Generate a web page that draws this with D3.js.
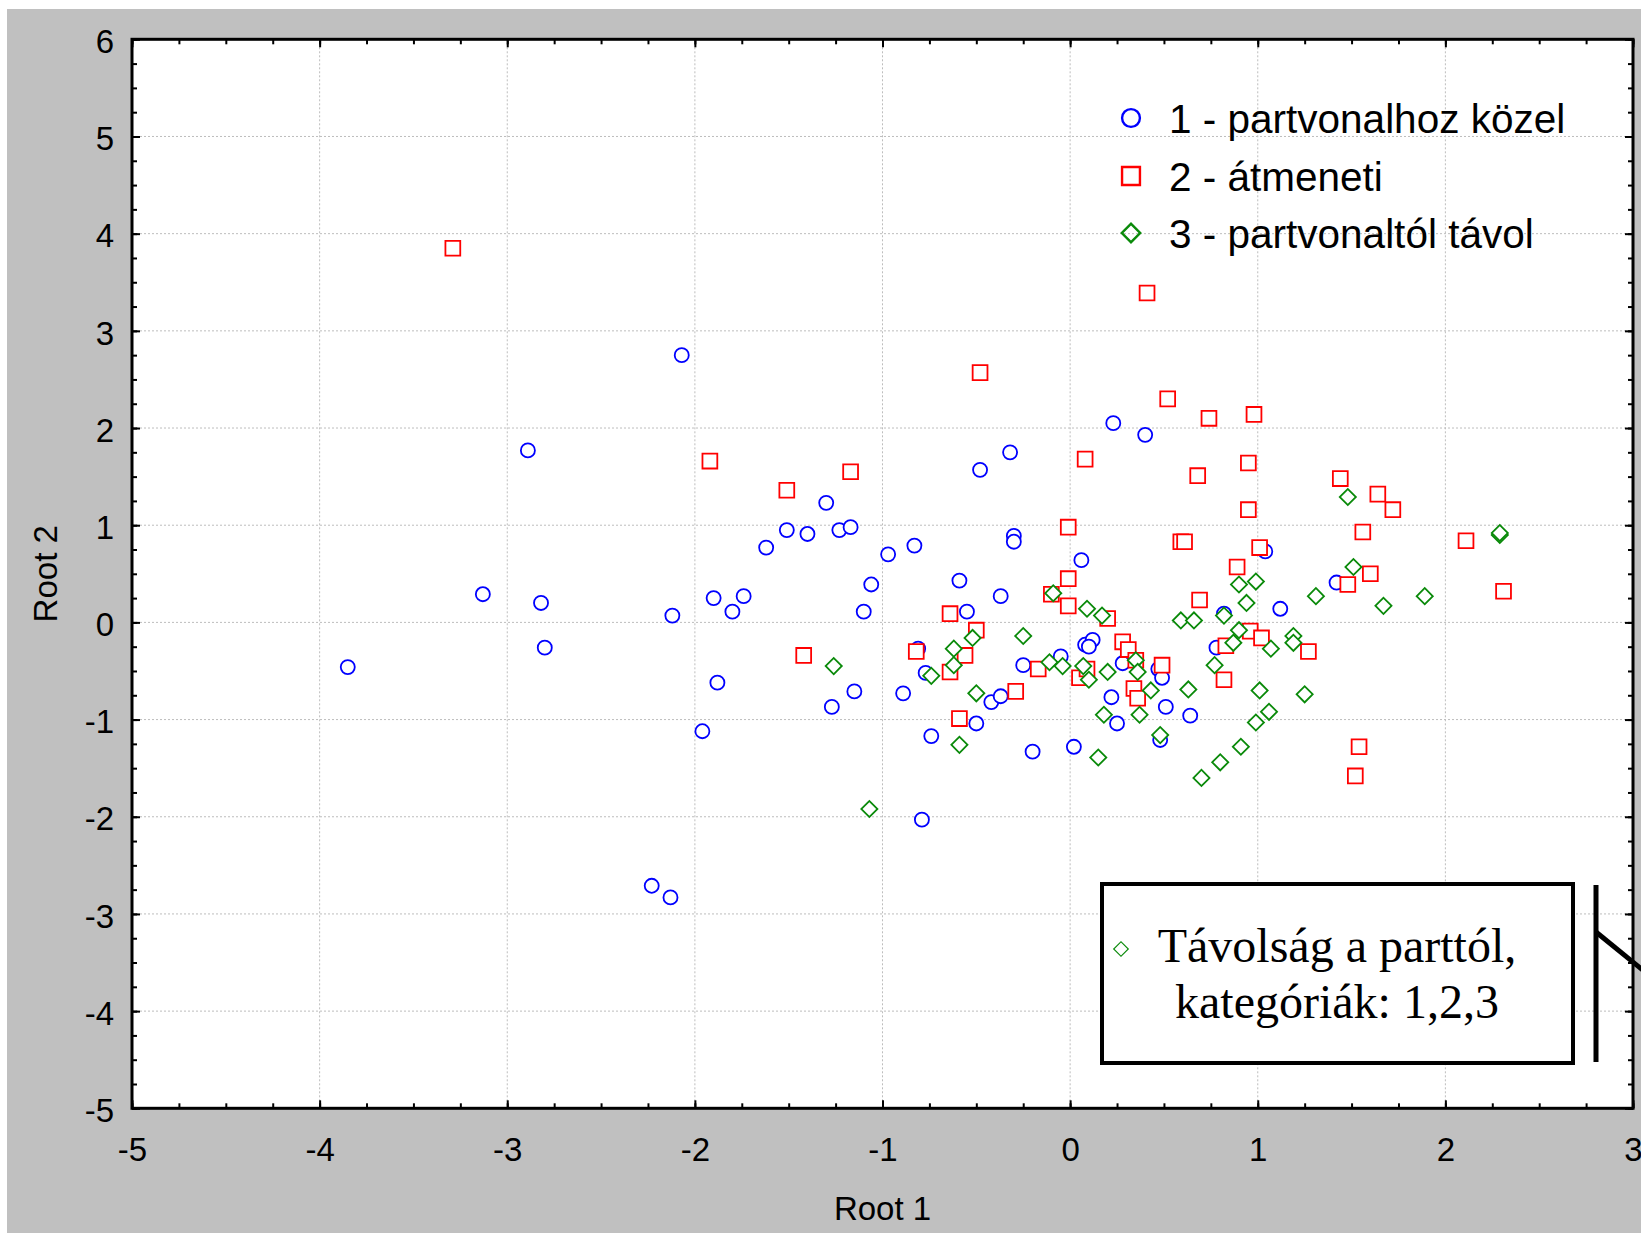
<!DOCTYPE html>
<html>
<head>
<meta charset="utf-8">
<script src="https://cdn.jsdelivr.net/npm/d3@7"></script>
<style>
    body { margin: 0; background: #ffffff; }
    .tick text { font-family: "Liberation Sans", Arial, sans-serif; }
</style>
</head>
<body>
<div id="chart"></div>
<script>
// Root 1 / Root 2 scores
let near_pts = [
    [-3.85, -0.46], [-3.13, 0.29], [-2.89, 1.77], [-2.82, 0.20], [-2.80, -0.26],
    [-2.23, -2.71], [-2.13, -2.83], [-2.12, 0.07], [-2.07, 2.75], [-1.96, -1.12],
    [-1.90, 0.25], [-1.88, -0.62], [-1.80, 0.11], [-1.74, 0.27], [-1.62, 0.77],
    [-1.51, 0.95], [-1.40, 0.91], [-1.30, 1.23], [-1.27, -0.87], [-1.23, 0.95],
    [-1.17, 0.98], [-1.15, -0.71], [-1.10, 0.11], [-1.06, 0.39], [-0.97, 0.70],
    [-0.89, -0.73], [-0.83, 0.79], [-0.81, -0.27], [-0.79, -2.03], [-0.77, -0.52],
    [-0.74, -1.17], [-0.59, 0.43], [-0.55, 0.11], [-0.50, -1.04], [-0.48, 1.57],
    [-0.42, -0.82], [-0.37, 0.27], [-0.37, -0.76], [-0.32, 1.75], [-0.30, 0.89],
    [-0.30, 0.83], [-0.25, -0.44], [-0.20, -1.33], [-0.05, -0.35], [0.02, -1.28],
    [0.06, 0.64], [0.08, -0.23], [0.12, -0.18], [0.10, -0.25], [0.22, -0.77],
    [0.23, 2.05], [0.25, -1.04], [0.28, -0.42], [0.40, 1.93], [0.47, -0.48],
    [0.49, -0.57], [0.48, -1.21], [0.51, -0.87], [0.64, -0.96], [0.78, -0.26],
    [0.82, 0.09], [1.04, 0.73], [1.12, 0.14], [1.42, 0.41]
];

let mid_pts = [
    [-3.29, 3.85], [-1.92, 1.66], [-1.51, 1.36], [-1.42, -0.34], [-1.17, 1.55],
    [-0.82, -0.30], [-0.64, 0.09], [-0.64, -0.51], [-0.59, -0.99], [-0.56, -0.34],
    [-0.50, -0.08], [-0.48, 2.57], [-0.29, -0.71], [-0.17, -0.48], [-0.10, 0.29],
    [-0.01, 0.98], [-0.01, 0.45], [-0.01, 0.17], [0.08, 1.68], [0.05, -0.57],
    [0.09, -0.48], [0.20, 0.04], [0.28, -0.20], [0.31, -0.28], [0.35, -0.39],
    [0.34, -0.68], [0.36, -0.78], [0.41, 3.39], [0.49, -0.44], [0.52, 2.30],
    [0.59, 0.83], [0.61, 0.83], [0.68, 1.51], [0.69, 0.23], [0.74, 2.10],
    [0.82, -0.59], [0.83, -0.24], [0.89, 0.57], [0.95, 1.64], [0.95, 1.16],
    [0.96, -0.09], [0.98, 2.14], [1.01, 0.77], [1.02, -0.16], [1.27, -0.30],
    [1.44, 1.48], [1.48, 0.39], [1.52, -1.58], [1.54, -1.28], [1.56, 0.93],
    [1.60, 0.50], [1.64, 1.32], [1.72, 1.16], [2.11, 0.84], [2.31, 0.32]
];

let far_pts = [
    [-1.26, -0.45], [-1.07, -1.92], [-0.74, -0.55], [-0.62, -0.27], [-0.62, -0.44],
    [-0.59, -1.26], [-0.52, -0.16], [-0.50, -0.73], [-0.25, -0.14], [-0.11, -0.41],
    [-0.09, 0.30], [-0.04, -0.45], [0.07, -0.45], [0.09, 0.14], [0.10, -0.59],
    [0.15, -1.39], [0.17, 0.07], [0.18, -0.95], [0.20, -0.51], [0.35, -0.39],
    [0.36, -0.51], [0.37, -0.95], [0.43, -0.70], [0.48, -1.16], [0.59, 0.02],
    [0.63, -0.69], [0.66, 0.02], [0.70, -1.60], [0.77, -0.44], [0.80, -1.44],
    [0.82, 0.07], [0.87, -0.21], [0.90, -0.08], [0.90, 0.39], [0.91, -1.28],
    [0.94, 0.20], [0.99, 0.42], [0.99, -1.03], [1.01, -0.70], [1.06, -0.92],
    [1.07, -0.27], [1.19, -0.14], [1.19, -0.21], [1.25, -0.74], [1.31, 0.27],
    [1.48, 1.29], [1.51, 0.57], [1.67, 0.17], [1.89, 0.27], [2.29, 0.90],
    [2.29, 0.92]
];

let x_ticks = [-5, -4, -3, -2, -1, 0, 1, 2, 3];
let y_ticks = [-5, -4, -3, -2, -1, 0, 1, 2, 3, 4, 5, 6];
let legend_labels = ["1 - partvonalhoz közel", "2 - átmeneti", "3 - partvonaltól távol"];
let note_lines = ["Távolság a parttól,", "kategóriák: 1,2,3"];

let group_colors = {
    "near": "#0000ff",
    "mid": "#ff0000",
    "far": "#0a8a0a"
};

// plain hyphen for negatives, like the original
let tick_fmt = function (d) { return String(d); };

function draw_scatter(div_to_graph) {

    let w = 1641, h = 1236;
    let left = 132, right = 1633, top = 39.3, bottom = 1108.3;

    let svg = d3.select("#" + div_to_graph).append("svg")
        .attr("width", w)
        .attr("height", h);

    svg.append("rect")
        .attr("x", 7).attr("y", 9)
        .attr("width", w - 7).attr("height", 1224)
        .style("fill", "#c0c0c0");

    let x = d3.scaleLinear().domain([-5, 3]).range([left, right]);
    let y = d3.scaleLinear().domain([-5, 6]).range([bottom, top]);

    svg.append("rect")
        .attr("x", left).attr("y", top)
        .attr("width", right - left).attr("height", bottom - top)
        .style("fill", "#ffffff");

    // dotted grid
    let grid = svg.append("g").style("stroke", "#bdbdbd").style("stroke-width", 1)
        .style("stroke-dasharray", "2,2");
    grid.selectAll(".vx").data(x_ticks.slice(1, -1)).enter().append("line")
        .attr("x1", d => x(d)).attr("x2", d => x(d))
        .attr("y1", top).attr("y2", bottom);
    grid.selectAll(".hy").data(y_ticks.slice(1, -1)).enter().append("line")
        .attr("x1", left).attr("x2", right)
        .attr("y1", d => y(d)).attr("y2", d => y(d));

    let minor_x = d3.range(-5, 3.001, 0.25);
    let minor_y = d3.range(-5, 6.001, 0.25);

    function style_axis(g) {
        g.select(".domain").remove();
        g.selectAll(".tick line").style("stroke", "#000").style("stroke-width", 2);
    }

    // minor ticks on all four sides
    svg.append("g").attr("transform", "translate(0," + bottom + ")")
        .call(d3.axisBottom(x).tickValues(minor_x).tickSize(-5).tickFormat(""))
        .call(style_axis);
    svg.append("g").attr("transform", "translate(0," + top + ")")
        .call(d3.axisTop(x).tickValues(minor_x).tickSize(-5).tickFormat(""))
        .call(style_axis);
    svg.append("g").attr("transform", "translate(" + left + ",0)")
        .call(d3.axisLeft(y).tickValues(minor_y).tickSize(-5).tickFormat(""))
        .call(style_axis);
    svg.append("g").attr("transform", "translate(" + right + ",0)")
        .call(d3.axisRight(y).tickValues(minor_y).tickSize(-5).tickFormat(""))
        .call(style_axis);

    // major ticks with labels
    let x_axis = svg.append("g").attr("transform", "translate(0," + bottom + ")")
        .call(d3.axisBottom(x).tickValues(x_ticks).tickSize(-8).tickFormat(tick_fmt))
        .call(style_axis);
    x_axis.selectAll(".tick text")
        .attr("y", 53).attr("dy", 0)
        .style("font-size", "33px").style("fill", "#000");

    let y_axis = svg.append("g").attr("transform", "translate(" + left + ",0)")
        .call(d3.axisLeft(y).tickValues(y_ticks).tickSize(-8).tickFormat(tick_fmt))
        .call(style_axis);
    y_axis.selectAll(".tick text")
        .attr("x", -18).attr("dy", "0.4em")
        .style("font-size", "33px").style("fill", "#000");

    svg.append("g").attr("transform", "translate(0," + top + ")")
        .call(d3.axisTop(x).tickValues(x_ticks).tickSize(-8).tickFormat(""))
        .call(style_axis);
    svg.append("g").attr("transform", "translate(" + right + ",0)")
        .call(d3.axisRight(y).tickValues(y_ticks).tickSize(-8).tickFormat(""))
        .call(style_axis);

    // frame
    svg.append("rect")
        .attr("x", left).attr("y", top)
        .attr("width", right - left).attr("height", bottom - top)
        .style("fill", "none").style("stroke", "#000").style("stroke-width", 3);

    svg.append("text")
        .attr("x", (left + right) / 2).attr("y", 1220)
        .attr("text-anchor", "middle")
        .style("font-family", "Liberation Sans, Arial, sans-serif")
        .style("font-size", "33px")
        .text("Root 1");

    svg.append("text")
        .attr("transform", "translate(57," + (top + bottom) / 2 + ")rotate(-90)")
        .attr("text-anchor", "middle")
        .style("font-family", "Liberation Sans, Arial, sans-serif")
        .style("font-size", "33px")
        .text("Root 2");

    let sym_circle = d3.symbol().type(d3.symbolCircle);
    let sym_square = d3.symbol().type(d3.symbolSquare);

    function add_points(data, cls, path_fn, rot) {
        svg.append("g").selectAll("." + cls)
            .data(data)
            .enter().append("path")
            .attr("class", cls)
            .attr("d", path_fn)
            .attr("transform", function (d) {
                return "translate(" + x(d[0]) + "," + y(d[1]) + ")" + (rot ? "rotate(45)" : "");
            })
            .style("fill", "#ffffff")
            .style("stroke", group_colors[cls])
            .style("stroke-width", 1.8);
    }

    add_points(near_pts, "near", sym_circle.size(155)(), false);
    add_points(mid_pts, "mid", sym_square.size(220)(), false);
    add_points(far_pts, "far", sym_square.size(130)(), true);

    // legend
    let legend = svg.append("g");
    let legend_y = [133, 191, 248];
    let legend_sym = [
        {d: d3.symbol().type(d3.symbolCircle).size(250)(), c: "near", r: false},
        {d: d3.symbol().type(d3.symbolSquare).size(320)(), c: "mid", r: false},
        {d: d3.symbol().type(d3.symbolSquare).size(170)(), c: "far", r: true}
    ];
    legend_labels.forEach(function (lab, i) {
        legend.append("path")
            .attr("d", legend_sym[i].d)
            .attr("transform", "translate(1131," + (legend_y[i] - 15) + ")" + (legend_sym[i].r ? "rotate(45)" : ""))
            .style("fill", "none")
            .style("stroke", group_colors[legend_sym[i].c])
            .style("stroke-width", 2.4);
        legend.append("text")
            .attr("x", 1169).attr("y", legend_y[i])
            .style("font-family", "Liberation Sans, Arial, sans-serif")
            .style("font-size", "40.5px")
            .text(lab);
    });

    // annotation box
    svg.append("rect")
        .attr("x", 1102).attr("y", 884)
        .attr("width", 471).attr("height", 179)
        .style("fill", "#ffffff").style("stroke", "#000").style("stroke-width", 4);
    svg.append("path")
        .attr("d", d3.symbol().type(d3.symbolSquare).size(105)())
        .attr("transform", "translate(1121,949)rotate(45)")
        .style("fill", "none").style("stroke", group_colors.far).style("stroke-width", 1.2);
    note_lines.forEach(function (t, i) {
        svg.append("text")
            .attr("x", 1337).attr("y", 962 + i * 56)
            .attr("text-anchor", "middle")
            .style("font-family", "Liberation Serif, Times New Roman, serif")
            .style("font-size", "48px")
            .text(t);
    });

    svg.append("line")
        .attr("x1", 1596).attr("x2", 1596).attr("y1", 885).attr("y2", 1062)
        .style("stroke", "#000").style("stroke-width", 5);
    svg.append("line")
        .attr("x1", 1596).attr("y1", 932).attr("x2", 1655).attr("y2", 980)
        .style("stroke", "#000").style("stroke-width", 5);
}

draw_scatter("chart");
</script>
</body>
</html>
